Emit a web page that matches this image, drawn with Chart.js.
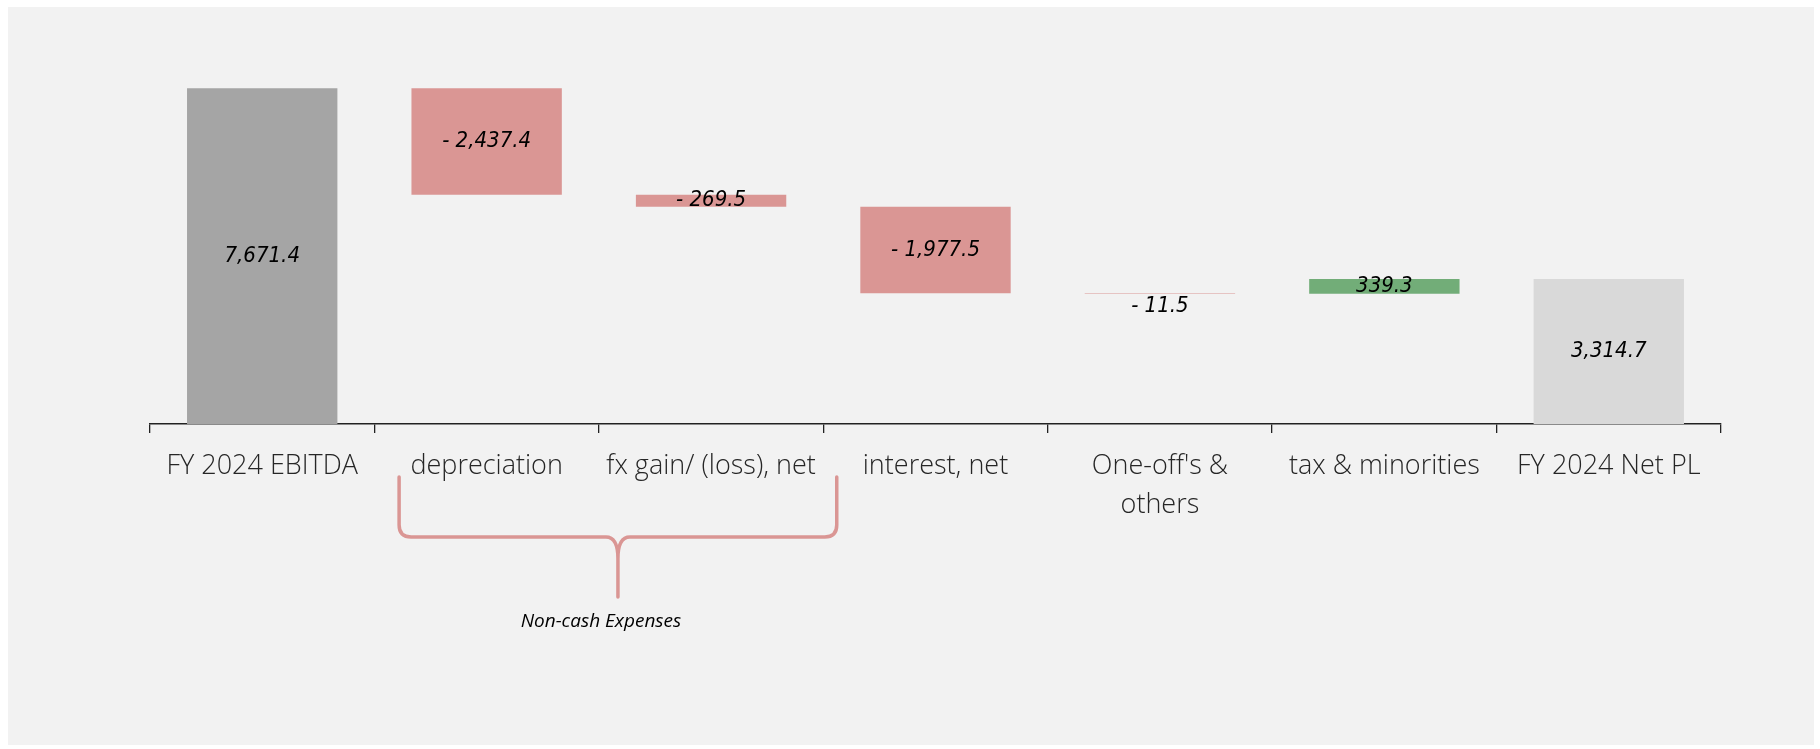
<!DOCTYPE html>
<html>
<head>
<meta charset="utf-8">
<title>FY 2024 EBITDA to Net PL</title>
<script src="https://cdn.jsdelivr.net/npm/chart.js@4.4.1/dist/chart.umd.min.js"></script>
<style>
  html, body { margin: 0; padding: 0; background: #ffffff; }
  #panel { position: absolute; left: 8px; top: 7px; width: 1806px; height: 738px; background: #f2f2f2; }
  #wrap { position: absolute; left: 0; top: 0; width: 1820px; height: 749px; }
</style>
</head>
<body>
<div id="panel"></div>
<div id="wrap"><canvas id="bridge" width="1820" height="749"></canvas></div>
<script>
const categories = ["FY 2024 EBITDA", "depreciation", "fx gain/ (loss), net", "interest, net", ["One-off's &", "others"], "tax & minorities", "FY 2024 Net PL"];
const stepValues = [7671.4, -2437.4, -269.5, -1977.5, -11.5, 339.3, 3314.7];
const isTotal = [true, false, false, false, false, false, true];
const braceLabel = "Non-cash Expenses";

// floating ranges: totals stand on zero, steps hang from the running sum
let running = 0;
const ranges = stepValues.map((v, i) => {
  if (isTotal[i]) { running = v; return [0, v]; }
  const start = running;
  running += v;
  return [start, running];
});

const barColors = stepValues.map((v, i) => {
  if (isTotal[i]) return i === 0 ? "#a5a5a5" : "#d9d9d9";
  return v < 0 ? "#da9694" : "#72ad78";
});

const fmt = (n) => n.toLocaleString("en-US", { minimumFractionDigits: 1, maximumFractionDigits: 1 });

const valueLabels = {
  id: "valueLabels",
  afterDatasetsDraw(chart) {
    const ctx = chart.ctx;
    const meta = chart.getDatasetMeta(0);
    ctx.save();
    ctx.font = "italic 22px 'DejaVu Sans Condensed', 'Liberation Sans', sans-serif";
    ctx.fillStyle = "#000000";
    ctx.textAlign = "center";
    ctx.textBaseline = "middle";
    meta.data.forEach((bar, i) => {
      const v = stepValues[i];
      const text = v < 0 ? "- " + fmt(-v) : fmt(v);
      const top = Math.min(bar.y, bar.base);
      const bottom = Math.max(bar.y, bar.base);
      let y = (top + bottom) / 2;
      if (bottom - top < 3) y = bottom + 13;
      ctx.fillText(text, bar.x, y);
    });
    ctx.restore();
  }
};

// curly brace under depreciation + fx
const braceNote = {
  id: "braceNote",
  afterDraw(chart) {
    const xs = chart.scales.x;
    const ctx = chart.ctx;
    const w = xs.getPixelForValue(1) - xs.getPixelForValue(0);
    const left = xs.getPixelForValue(1) - 0.39 * w;
    const right = xs.getPixelForValue(2) + 0.56 * w;
    const mid = (left + right) / 2;
    const top = 477, bar = 537, tip = 597, r = 12;
    ctx.save();
    ctx.strokeStyle = "#da9694";
    ctx.lineWidth = 3.5;
    ctx.lineCap = "round";
    ctx.beginPath();
    ctx.moveTo(left, top);
    ctx.lineTo(left, bar - r);
    ctx.quadraticCurveTo(left, bar, left + r, bar);
    ctx.lineTo(mid - r, bar);
    ctx.quadraticCurveTo(mid, bar, mid, bar + r * 1.8);
    ctx.lineTo(mid, tip);
    ctx.moveTo(mid, bar + r * 1.8);
    ctx.quadraticCurveTo(mid, bar, mid + r, bar);
    ctx.lineTo(right - r, bar);
    ctx.quadraticCurveTo(right, bar, right, bar - r);
    ctx.lineTo(right, top);
    ctx.stroke();
    ctx.font = "italic 19px 'Open Sans', sans-serif";
    ctx.fillStyle = "#000000";
    ctx.textAlign = "center";
    ctx.textBaseline = "middle";
    ctx.fillText(braceLabel, mid - 17, 622);
    ctx.restore();
  }
};

new Chart(document.getElementById("bridge"), {
  type: "bar",
  data: {
    labels: categories,
    datasets: [{
      data: ranges,
      backgroundColor: barColors,
      borderWidth: 0,
      categoryPercentage: 1,
      barPercentage: 0.67
    }]
  },
  options: {
    responsive: false,
    animation: false,
    layout: { padding: { left: 150, right: 99, top: 30, bottom: 0 } },
    plugins: { legend: { display: false }, tooltip: { enabled: false } },
    scales: {
      x: {
        afterFit: (axis) => { axis.height = 325; },
        grid: { display: true, offset: true, drawOnChartArea: false, drawTicks: true, tickLength: 9, color: "#222222", lineWidth: 1.3 },
        border: { display: true, color: "#222222", width: 1.6 },
        ticks: {
          autoSkip: false, maxRotation: 0, padding: 14,
          color: "#262626",
          font: { family: "'Open Sans', sans-serif", size: 27, weight: 300, lineHeight: 1.43 }
        }
      },
      y: { display: false, min: 0, max: 9000 }
    }
  },
  plugins: [valueLabels, braceNote]
});
</script>
</body>
</html>
